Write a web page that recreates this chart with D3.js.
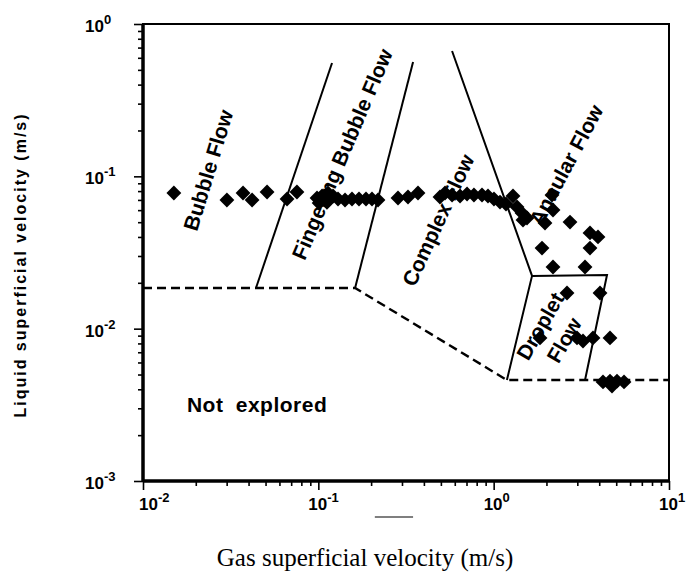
<!DOCTYPE html>
<html>
<head>
<meta charset="utf-8">
<script src="https://cdn.jsdelivr.net/npm/d3@7"></script>
<style>
  body { margin: 0; background: #fff; }
  svg { display: block; }
</style>
</head>
<body>
<div id="chart"></div>
<script>
// measured points: gas / liquid superficial velocity (m/s)
const gasVel = [
    0.0150, 0.0301, 0.0372, 0.0419, 0.0510, 0.0663, 0.0755,
    0.0983, 0.105, 0.1135, 0.1213, 0.1295, 0.142, 0.1556, 0.1706, 0.187, 0.2023, 0.2189, 0.101, 0.112,
    0.2847, 0.3246, 0.3702,
    0.494, 0.528, 0.579, 0.643, 0.705, 0.772, 0.858, 0.928, 1.004, 1.087, 1.176, 1.289, 1.359, 1.451, 1.549, 1.470,
    2.151, 2.18, 1.962, 2.725, 3.543, 3.936, 3.543, 1.887, 2.18, 3.319,
    2.62, 4.042, 1.838, 2.988, 3.232, 3.686, 4.608,
    4.204, 4.608, 5.052, 5.54, 4.73
];
const liqVel = [
    0.0777, 0.0699, 0.0777, 0.0699, 0.0789, 0.0710, 0.0789,
    0.0721, 0.0743, 0.0777, 0.0743, 0.0710, 0.0699, 0.0710, 0.0710, 0.0710, 0.0710, 0.0699, 0.0668, 0.0675,
    0.0721, 0.0732, 0.0777,
    0.0732, 0.0777, 0.0754, 0.0743, 0.0766, 0.0754, 0.0754, 0.0743, 0.0710, 0.0678, 0.0658, 0.0743, 0.0629, 0.0574, 0.0533, 0.0517,
    0.0754, 0.0601, 0.0494, 0.0501, 0.0425, 0.0400, 0.0338, 0.0338, 0.0254, 0.0254,
    0.01715, 0.01715, 0.00869, 0.00869, 0.0083, 0.00869, 0.00869,
    0.00447, 0.00453, 0.00453, 0.00447, 0.0042
];

// regime boundaries
const dashedBoundary = [[0.01, 0.0185], [0.162, 0.0185], [1.19, 0.0046], [10, 0.0046]];
const solidBoundaries = [
    [[0.0441, 0.0185], [0.1197, 0.555]],
    [[0.162, 0.0185], [0.347, 0.563]],
    [[0.579, 0.665], [1.655, 0.0222], [1.19, 0.0046]],
    [[1.655, 0.0222], [4.43, 0.0225], [3.32, 0.0046]]
];

// regime names: text, x, y, angle
const regimeText = ["Bubble Flow", "Fingering Bubble Flow", "Complex Flow", "Annular Flow", "Droplet", "Flow"];
const regimeX = [0.0235, 0.1365, 0.4815, 2.586, 1.838, 2.519];
const regimeY = [0.11, 0.140, 0.0517, 0.1187, 0.0104, 0.00842];
const regimeAngle = [-73, -67, -65, -62, -60, -60];

const xExps = [-2, -1, 0, 1];
const yExps = [-3, -2, -1, 0];

const width = 688, height = 575;
const margin = { top: 24, right: 19, bottom: 94, left: 143 };
const w = width - margin.left - margin.right;
const h = height - margin.top - margin.bottom;

const svg = d3.select("#chart").append("svg")
    .attr("width", width)
    .attr("height", height);

const g = svg.append("g")
    .attr("transform", `translate(${margin.left},${margin.top})`);

const x = d3.scaleLog().domain([1e-2, 1e1]).range([0, w]);
const y = d3.scaleLog().domain([1e-3, 1e0]).range([h, 0]);

function minorTicks(exps) {
    let t = [];
    exps.slice(0, -1).forEach(e => {
        for (let k = 2; k <= 9; k++) t.push(k * Math.pow(10, e));
    });
    return t;
}
const xMajor = xExps.map(e => Math.pow(10, e));
const yMajor = yExps.map(e => Math.pow(10, e));

// minor ticks
g.append("g")
    .attr("transform", `translate(0,${h})`)
    .call(d3.axisBottom(x).tickValues(minorTicks(xExps)).tickSize(5).tickFormat(""))
    .call(a => a.select(".domain").remove());
g.append("g")
    .call(d3.axisLeft(y).tickValues(minorTicks(yExps)).tickSize(5).tickFormat(""))
    .call(a => a.select(".domain").remove());

// major ticks
g.append("g")
    .attr("transform", `translate(0,${h})`)
    .call(d3.axisBottom(x).tickValues(xMajor).tickSize(9).tickFormat(""))
    .call(a => a.select(".domain").remove());
g.append("g")
    .call(d3.axisLeft(y).tickValues(yMajor).tickSize(9).tickFormat(""))
    .call(a => a.select(".domain").remove());

g.selectAll(".tick line").attr("stroke", "#000").attr("stroke-width", 1.6);

// frame
g.append("rect")
    .attr("width", w).attr("height", h)
    .attr("fill", "none").attr("stroke", "#000").attr("stroke-width", 2);
g.append("line").attr("x1", 0).attr("x2", 0).attr("y1", 0).attr("y2", h)
    .attr("stroke", "#000").attr("stroke-width", 3.5);
g.append("line").attr("x1", 0).attr("x2", w).attr("y1", h).attr("y2", h)
    .attr("stroke", "#000").attr("stroke-width", 3.5);

// tick labels 10^n
const tickFont = "Liberation Sans, Arial, sans-serif";
xExps.forEach(e => {
    let t = g.append("text")
        .attr("x", x(Math.pow(10, e)) - (e === -2 ? 4 : 10))
        .attr("y", h + 29)
        .attr("font-family", tickFont).attr("font-weight", "bold")
        .attr("font-size", 17);
    t.append("tspan").text("10");
    t.append("tspan").attr("dy", -8).attr("font-size", 13).text(e);
});
yExps.forEach(e => {
    let t = g.append("text")
        .attr("x", -58)
        .attr("y", y(Math.pow(10, e)) + 8)
        .attr("font-family", tickFont).attr("font-weight", "bold")
        .attr("font-size", 17);
    t.append("tspan").text("10");
    t.append("tspan").attr("dy", -8).attr("font-size", 13).text(e);
});

// boundaries
const line = d3.line().x(d => x(d[0])).y(d => y(d[1]));
g.append("path")
    .datum(dashedBoundary)
    .attr("fill", "none").attr("stroke", "#000")
    .attr("stroke-width", 2.4).attr("stroke-dasharray", "9,5")
    .attr("d", line);
solidBoundaries.forEach(b => {
    g.append("path")
        .datum(b)
        .attr("fill", "none").attr("stroke", "#000")
        .attr("stroke-width", 2)
        .attr("d", line);
});

// regime labels
regimeText.forEach((s, i) => {
    g.append("text")
        .attr("transform", `translate(${x(regimeX[i])},${y(regimeY[i])}) rotate(${regimeAngle[i]})`)
        .attr("text-anchor", "middle")
        .attr("dominant-baseline", "central")
        .attr("font-family", tickFont).attr("font-weight", "bold")
        .attr("font-size", 21)
        .text(s);
});

g.append("text")
    .attr("x", x(0.0178)).attr("y", y(0.00284))
    .attr("font-family", tickFont).attr("font-weight", "bold")
    .attr("font-size", 21).attr("letter-spacing", 0.5)
    .attr("word-spacing", 6)
    .text("Not explored");

// data points
const pts = gasVel.map((v, i) => ({ gas: v, liq: liqVel[i] }));
g.selectAll(".pt")
    .data(pts)
    .enter()
    .append("path")
    .attr("class", "pt")
    .attr("d", d3.symbol().type(d3.symbolSquare).size(110))
    .attr("transform", d => `translate(${x(d.gas)},${y(d.liq)}) rotate(45)`)
    .attr("fill", "#000");

// stray rule under the axis
g.append("line")
    .attr("x1", x(0.21)).attr("x2", x(0.347))
    .attr("y1", h + 36).attr("y2", h + 36)
    .attr("stroke", "#000").attr("stroke-width", 1.2);

// axis titles
svg.append("text")
    .attr("x", 365).attr("y", 566)
    .attr("text-anchor", "middle")
    .attr("font-family", "Liberation Serif, Times New Roman, serif")
    .attr("font-size", 25)
    .text("Gas superficial velocity (m/s)");

svg.append("text")
    .attr("transform", "translate(26,265) rotate(-90)")
    .attr("text-anchor", "middle")
    .attr("font-family", tickFont).attr("font-weight", "bold")
    .attr("font-size", 16).attr("letter-spacing", 2)
    .text("Liquid superficial velocity (m/s)");
</script>
</body>
</html>
